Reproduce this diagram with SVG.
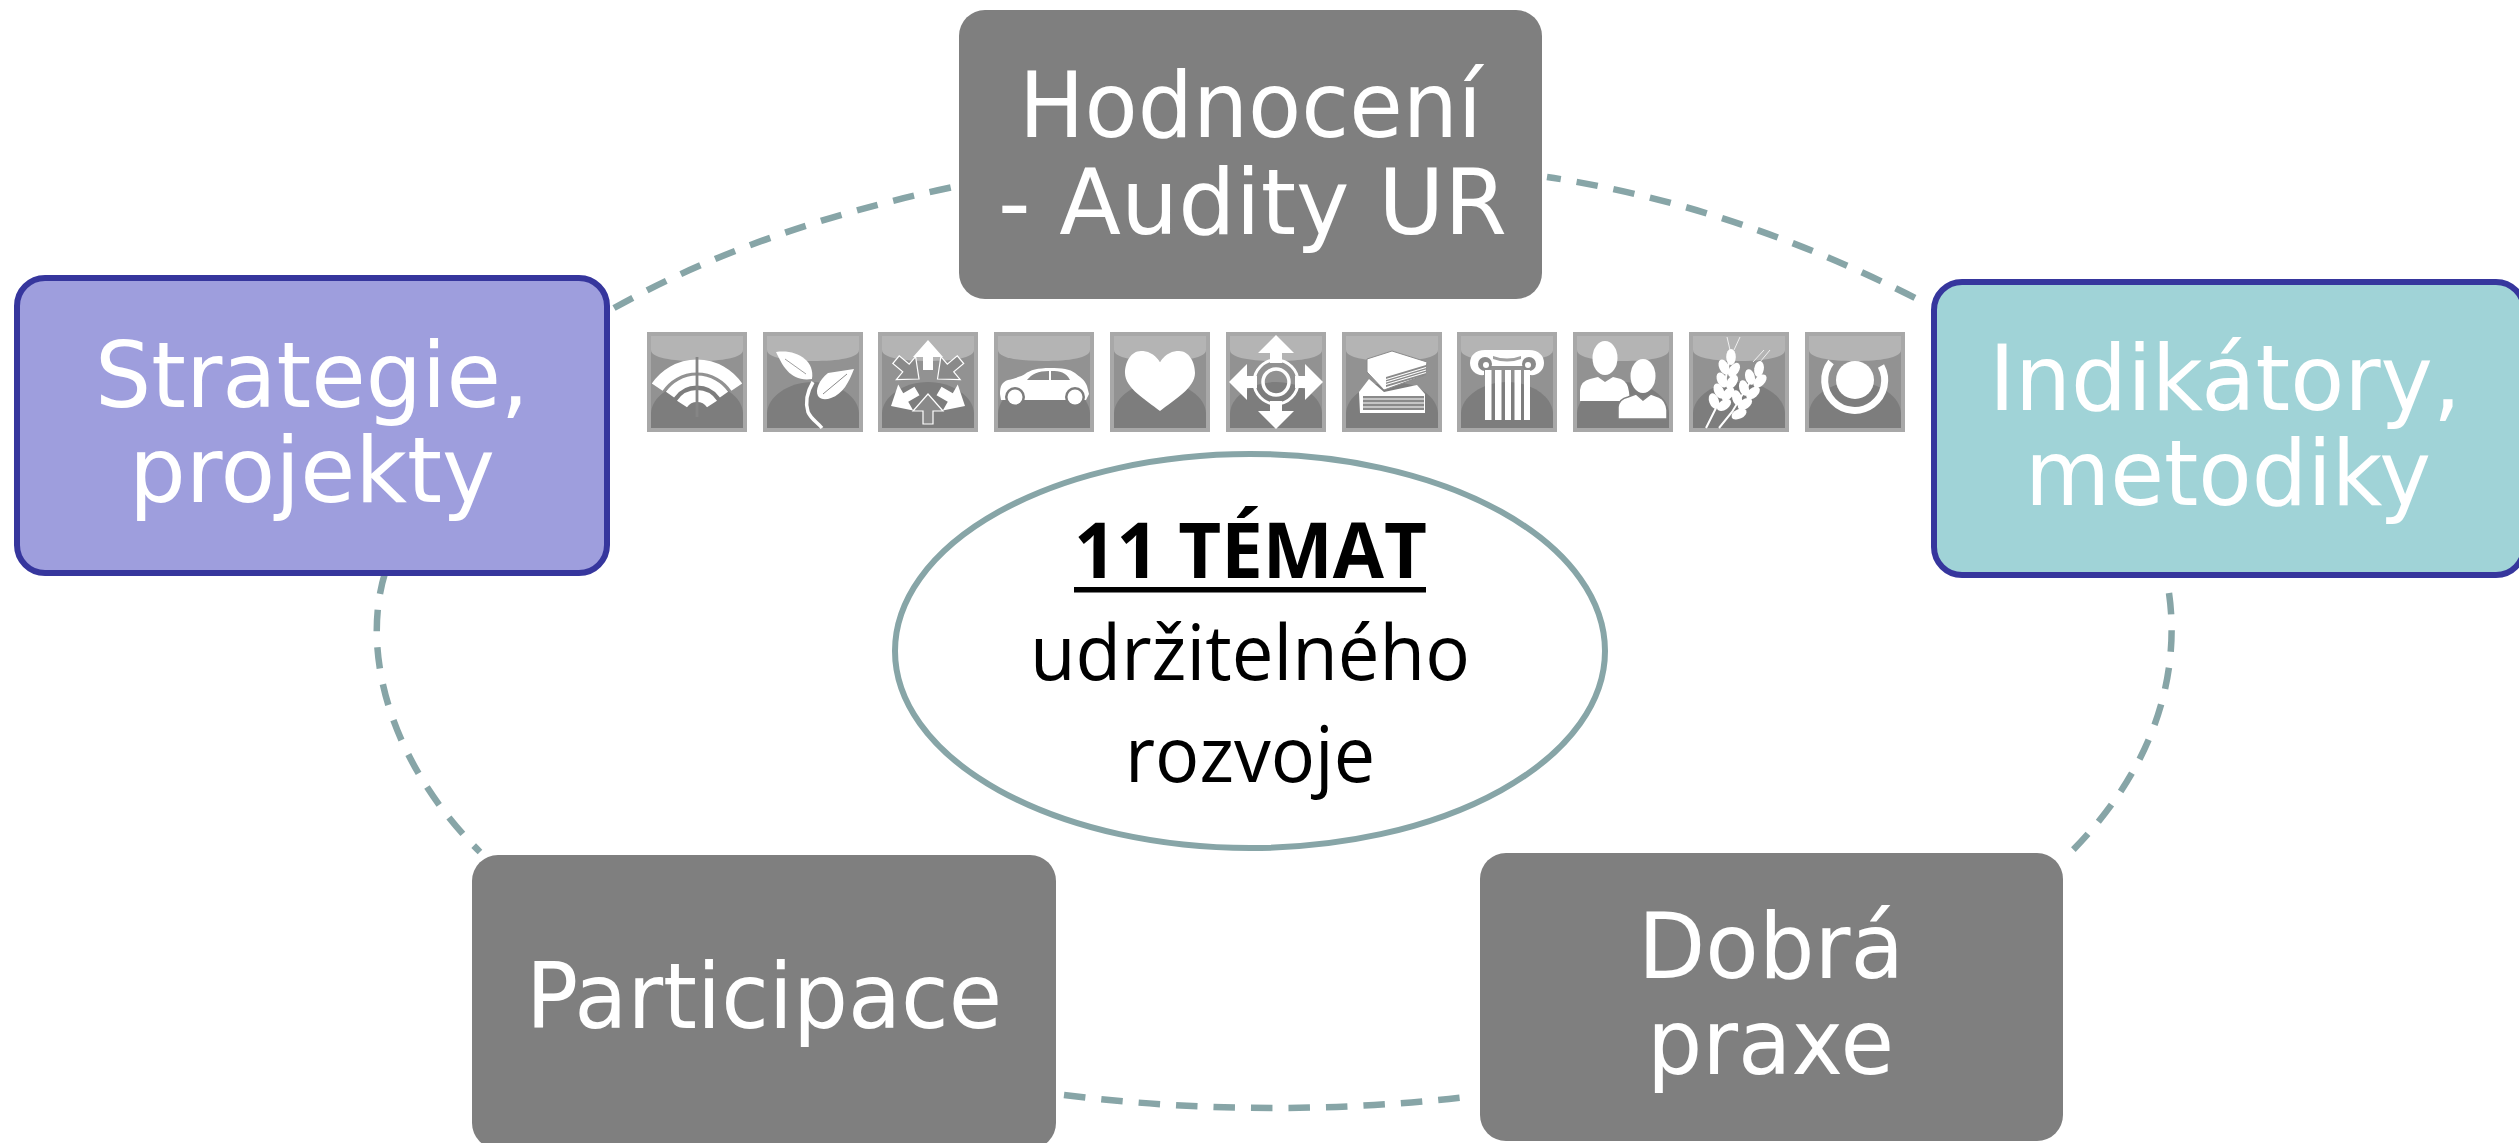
<svg xmlns="http://www.w3.org/2000/svg" xmlns:xlink="http://www.w3.org/1999/xlink" width="2519" height="1143" viewBox="0 0 2519 1143">
<style>
.bg{fill:#fff}
.gray{fill:#7f7f7f}
.lbl{font-family:"DejaVu Sans","Liberation Sans",sans-serif;font-size:90px;fill:#fff}
.blue{fill:#9e9edd;stroke:#36369d;stroke-width:6}
.teal{fill:#a0d3d7;stroke:#36369d;stroke-width:6}
.conn{fill:none;stroke:#87a5a7;stroke-width:6.5;stroke-dasharray:21.5 16}
.c{font-family:"Open Sans","Noto Sans",sans-serif;font-size:77px;fill:#000}
.w{fill:#fff}
.sw{fill:none;stroke:#fff}
.g{fill:#8a8a8a}
</style>
<defs>
<g id="tile">
<rect x="0" y="0" width="100" height="100" fill="#a8a8a8"/>
<rect x="4" y="4" width="92" height="92" fill="#929292"/>
<path d="M4,4H96V18C96,26 75,29 50,29C25,29 4,26 4,18Z" fill="#b4b4b4"/>
<path d="M4,96V82C4,65 25,50 50,50C75,50 96,65 96,82V96Z" fill="#7d7d7d"/>
</g>
<path id="arr" d="M0,0L15,17L5,17L5,30L-5,30L-5,17L-15,17Z"/>
<path id="arrB" d="M0,0L18,18L6,18L6,28L-6,28L-6,18L-18,18Z" fill="#fff"/>
<ellipse id="k" rx="4.8" ry="8" fill="#fff"/>
</defs>
<rect class="bg" x="0" y="0" width="2519" height="1143"/>
<g id="connectors">
<path class="conn" d="M614,308Q756,228.5 953,187"/>
<path class="conn" stroke-dashoffset="7.5" d="M1547,177Q1734,205 1921,301"/>
<path class="conn" d="M2169,593C2180,670 2158,765 2070,853"/>
<path class="conn" d="M1064,1095Q1265,1120 1466,1097"/>
<path class="conn" d="M385,573C360,655 392,765 480,852"/>
</g>
<g id="node-hodnoceni">
<rect class="gray" x="959" y="10" width="583" height="289" rx="26"/>
<text class="lbl" x="1019" y="137" textLength="463" lengthAdjust="spacingAndGlyphs">Hodnocení</text>
<text class="lbl" x="998" y="234" textLength="509" lengthAdjust="spacingAndGlyphs">- Audity UR</text>
</g>
<g id="node-strategie">
<rect class="blue" x="17" y="278" width="590" height="295" rx="28"/>
<text class="lbl" x="95" y="407" textLength="434" lengthAdjust="spacingAndGlyphs">Strategie,</text>
<text class="lbl" x="129" y="502" textLength="366" lengthAdjust="spacingAndGlyphs">projekty</text>
</g>
<g id="node-indikatory">
<rect class="teal" x="1934" y="282" width="590" height="293" rx="28"/>
<text class="lbl" x="1989" y="410" textLength="472" lengthAdjust="spacingAndGlyphs">Indikátory,</text>
<text class="lbl" x="2025" y="505" textLength="406" lengthAdjust="spacingAndGlyphs">metodiky</text>
</g>
<g id="node-participace">
<rect class="gray" x="472" y="855" width="584" height="294" rx="26"/>
<text class="lbl" x="526" y="1028" textLength="476" lengthAdjust="spacingAndGlyphs">Participace</text>
</g>
<g id="node-dobra">
<rect class="gray" x="1480" y="853" width="583" height="288" rx="26"/>
<text class="lbl" x="1638" y="978" textLength="266" lengthAdjust="spacingAndGlyphs">Dobrá</text>
<text class="lbl" x="1647" y="1074" textLength="247" lengthAdjust="spacingAndGlyphs">praxe</text>
</g>
<g id="node-center">
<ellipse cx="1250" cy="651" rx="355" ry="197" fill="#fff" stroke="#87a5a7" stroke-width="6"/>
<text class="c" x="1074" y="578" textLength="353" lengthAdjust="spacingAndGlyphs" font-weight="700">11 TÉMAT</text>
<rect x="1074" y="587" width="352" height="5.5" fill="#000"/>
<text class="c" x="1030" y="680" textLength="440" lengthAdjust="spacingAndGlyphs">udržitelného</text>
<text class="c" x="1125" y="782" textLength="250" lengthAdjust="spacingAndGlyphs">rozvoje</text>
</g>
<g id="icon-1" transform="translate(647,332)"><use href="#tile"/>
<path class="sw" stroke-width="13" d="M10.2,55.2A48,48 0 0 1 89.8,55.2"/>
<path class="sw" stroke-width="10" d="M23,62.6A33,33 0 0 1 77,62.6"/>
<path class="sw" stroke-width="12" d="M35,72A18,18 0 0 1 65,72"/>
<rect x="48.6" y="25" width="2.8" height="60" fill="#858585"/>
</g>
<g id="icon-2" transform="translate(763,332)"><use href="#tile"/>
<path class="w" d="M13,20C33,17 52,28 49,47C28,50 20,35 13,20Z"/>
<path d="M22,27L43,42" stroke="#a0a0a0" stroke-width="1" fill="none"/>
<path class="w" d="M91,37L65,41C56,48 52,58 55,64C58,68 63,68 68,66C80,62 86,50 91,37Z"/>
<path d="M84,42L60,62" stroke="#8a8a8a" stroke-width="1" fill="none"/>
<path class="sw" stroke-width="3.5" d="M50,50C44,60 42,70 45,80C48,87 54,90 59,96"/>
</g>
<g id="icon-3" transform="translate(878,332)"><use href="#tile"/>
<use href="#arr" class="w" transform="translate(50,8)"/>
<use href="#arr" class="w" transform="translate(13,74) rotate(-120)"/>
<use href="#arr" class="w" transform="translate(87,74) rotate(120)"/>
<use href="#arr" fill="#8a8a8a" stroke="#fff" stroke-width="1.2" transform="translate(50,62)"/>
<use href="#arr" fill="#8a8a8a" stroke="#fff" stroke-width="1.2" transform="translate(41,47) rotate(130)"/>
<use href="#arr" fill="#8a8a8a" stroke="#fff" stroke-width="1.2" transform="translate(59.5,47) rotate(-130)"/>
</g>
<g id="icon-4" transform="translate(994,332)"><use href="#tile"/>
<path class="w" d="M6,62C6,54 8,50 14,48C22,46 28,44 31,42C36,38 44,36 56,36C68,36 76,37 81,41C86,45 91,48 93,54L95,62L92,68H7Z"/>
<path d="M33,48C38,42 44,39 55,39V48ZM57,39C66,39 72,40 76,48H57Z" fill="#8a8a8a"/>
<circle cx="21" cy="65" r="10" fill="#7d7d7d"/><circle class="w" cx="21" cy="65" r="7.5"/>
<circle cx="81" cy="65" r="10" fill="#7d7d7d"/><circle class="w" cx="81" cy="65" r="7.5"/>
</g>
<g id="icon-5" transform="translate(1110,332)"><use href="#tile"/>
<path class="w" d="M50,30C44,21 37,19 31,19C21,19 15,30 15,41C15,56 36,68 50,79C64,68 85,56 85,41C85,30 79,19 69,19C63,19 56,21 50,30Z"/>
</g>
<g id="icon-6" transform="translate(1226,332)"><use href="#tile"/>
<use href="#arrB" transform="translate(50,3)"/>
<use href="#arrB" transform="translate(97,50) rotate(90)"/>
<use href="#arrB" transform="translate(50,97) rotate(180)"/>
<use href="#arrB" transform="translate(3,50) rotate(270)"/>
<circle cx="50" cy="50" r="22" fill="none" stroke="#fff" stroke-width="3"/>
<circle cx="50" cy="50" r="13" fill="none" stroke="#fff" stroke-width="3.5"/>
</g>
<g id="icon-7" transform="translate(1342,332)"><use href="#tile"/>
<path class="w" d="M17,60L27,47L42,60L75,53L83,62V81H18Z"/>
<rect x="21" y="64" width="61" height="14" fill="#8a8a8a"/>
<path d="M21,67H82M21,71H82M21,75H82" stroke="#fff" stroke-width="1.2"/>
<path class="w" d="M50,19L85,30L83,43L42,58L25,40V27Z" stroke="#8a8a8a" stroke-width="1"/>
<path d="M44,45L84,33V43L44,55Z" fill="#8a8a8a"/>
<path d="M44,47.5L84,35.5M44,50L84,38M44,52.5L84,40.5" stroke="#fff" stroke-width="1.1"/>
</g>
<g id="icon-8" transform="translate(1457,332)"><use href="#tile"/>
<path class="w" d="M28,18H72C82,18 87,24 87,31C87,39 80,44 73,43V34H27V43C20,44 13,39 13,31C13,24 18,18 28,18Z"/>
<circle cx="28" cy="32" r="7" fill="#8a8a8a"/><circle cx="72" cy="32" r="7" fill="#8a8a8a"/>
<circle class="w" cx="29" cy="33" r="3"/><circle class="w" cx="71" cy="33" r="3"/>
<path d="M36,24Q50,29 64,24V27Q50,32 36,27Z" fill="#a0a0a0"/>
<rect class="w" x="28" y="38" width="6.5" height="50"/><rect class="w" x="38" y="38" width="6.5" height="50"/><rect class="w" x="48" y="38" width="6" height="50"/><rect class="w" x="57.5" y="38" width="6.5" height="50"/><rect class="w" x="67" y="38" width="6" height="50"/>
</g>
<g id="icon-9" transform="translate(1573,332)"><use href="#tile"/>
<ellipse class="w" cx="32" cy="26" rx="12.5" ry="17"/>
<path class="w" d="M7,69V58Q8,49 17,47L25,45L32,50L40,45L48,47Q55,50 56,60L57,69Z"/>
<ellipse class="w" cx="70" cy="44" rx="12.5" ry="17"/>
<path class="w" stroke="#808080" stroke-width="1.5" d="M45,87V75Q46,67 55,65L63,62L70,68L78,62L86,65Q93,68 94,78V87Z"/>
</g>
<g id="icon-10" transform="translate(1689,332)"><use href="#tile"/>
<path class="sw" stroke-width="2" d="M17,96L27,76M40,30L36,50M30,96L43,80L64,45"/>
<path class="sw" stroke-width=".8" d="M38,5L41,18M51,5L45,18M75,18L64,30M81,18L71,30"/>
<use href="#k" transform="translate(42,25)"/>
<use href="#k" transform="translate(35,35) rotate(-25)"/><use href="#k" transform="translate(45,38) rotate(35)"/>
<use href="#k" transform="translate(33,48) rotate(-25)"/><use href="#k" transform="translate(43,50) rotate(35)"/>
<use href="#k" transform="translate(30,59) rotate(-25)"/><use href="#k" transform="translate(39,62) rotate(40)"/>
<use href="#k" transform="translate(25,69) rotate(-20)"/><use href="#k" transform="translate(35,73) rotate(55)"/>
<use href="#k" transform="translate(70,37) rotate(10)"/>
<use href="#k" transform="translate(61,45) rotate(-15)"/><use href="#k" transform="translate(71,49) rotate(45)"/>
<use href="#k" transform="translate(55,56) rotate(-15)"/><use href="#k" transform="translate(64,61) rotate(50)"/>
<use href="#k" transform="translate(48,66) rotate(-15)"/><use href="#k" transform="translate(56,72) rotate(55)"/>
<use href="#k" transform="translate(50,82) rotate(65)"/>
</g>
<g id="icon-11" transform="translate(1805,332)"><use href="#tile"/>
<circle class="w" cx="50" cy="48" r="19"/>
<path class="sw" stroke-width="7" d="M26,30A30,30 0 1 0 76,34"/>
</g>
</svg>
